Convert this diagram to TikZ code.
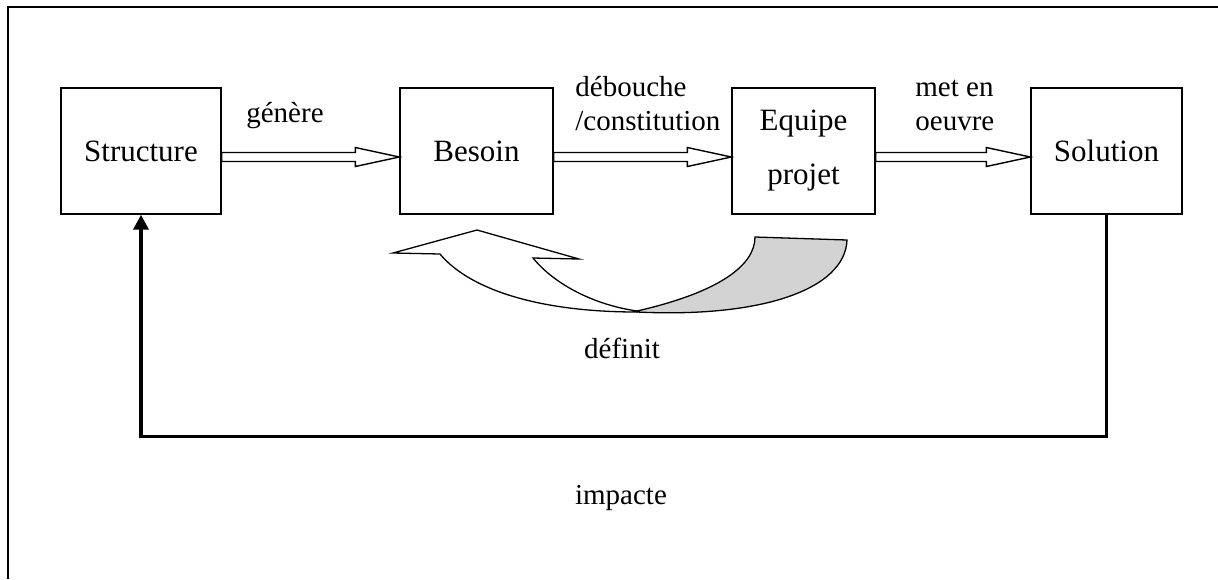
\documentclass[tikz,border=0pt]{standalone}
\usepackage{fontspec}
\setmainfont{Liberation Serif}
\usetikzlibrary{arrows.meta,calc}
\definecolor{backgrey}{RGB}{211,211,211}
% hollow arrow between two nodes
\newcommand{\blockarrow}[2]{%
  \draw[fatarrow] let \p1=(#1), \p2=(#2) in
    (\x1,\y1-0.75pt) -- (\x2-22pt,\y1-0.75pt) -- (\x2-22pt,\y1+1.75pt)
    -- (\x2,\y1-3pt) -- (\x2-22pt,\y1-7.75pt) -- (\x2-22pt,\y1-5.25pt)
    -- (\x1,\y1-5.25pt) -- cycle;}
\begin{document}
\begin{tikzpicture}[x=0.5pt,y=-0.5pt,
  box/.style={draw,line width=0.7pt,inner sep=0pt,minimum height=63pt,
    font=\fontsize{15.5}{27}\selectfont,align=center},
  lbl/.style={font=\fontsize{14.5}{17}\selectfont,inner sep=0pt},
  fatarrow/.style={draw,line width=0.7pt,fill=white},
  feedback/.style={line width=1.75pt,-{Triangle[width=7.5pt,length=7.5pt]}}]
  \useasboundingbox (0,0) rectangle (1218,579);
  \draw[line width=0.65pt] (1218,7) -- (8,7) -- (8,579);

  \node[box,minimum width=80pt] (struct) at (141,151) {Structure};
  \node[box,minimum width=76.5pt] (besoin) at (476.5,151) {Besoin};
  \node[box,minimum width=71.5pt] (equipe) at (803.5,151) {Equipe\\projet};
  \node[box,minimum width=75.5pt] (sol) at (1106.5,151) {Solution};

  \blockarrow{struct.east}{besoin.west}
  \blockarrow{besoin.east}{equipe.west}
  \blockarrow{equipe.east}{sol.west}

  \node[lbl,anchor=base] (gen) at (285,122) {génère};
  \node[lbl,align=left,anchor=base west] (deb) at (575,130) {débouche\\/constitution};
  \node[lbl,align=left,anchor=base west] (met) at (915,130) {met en\\oeuvre};

  \draw[line width=0.65pt,fill=backgrey] (637,311) .. controls (720,292) and (755,265) .. (755,237)
    -- (847,240) .. controls (845,290) and (760,318) .. (637,312) -- cycle;
  \draw[line width=0.65pt,fill=white] (440,254) -- (393,253) -- (477,230) -- (579,259) -- (533,258)
    .. controls (555,285) and (595,305) .. (637,311) -- (637,312)
    .. controls (540,312) and (470,290) .. (440,254) -- cycle;
  \node[lbl,anchor=base] (def) at (622,358) {définit};

  \draw[feedback] (sol.south) -- ++(0,222) -| (struct.south);
  \node[lbl,anchor=base] (imp) at (621,504) {impacte};
\end{tikzpicture}
\end{document}
